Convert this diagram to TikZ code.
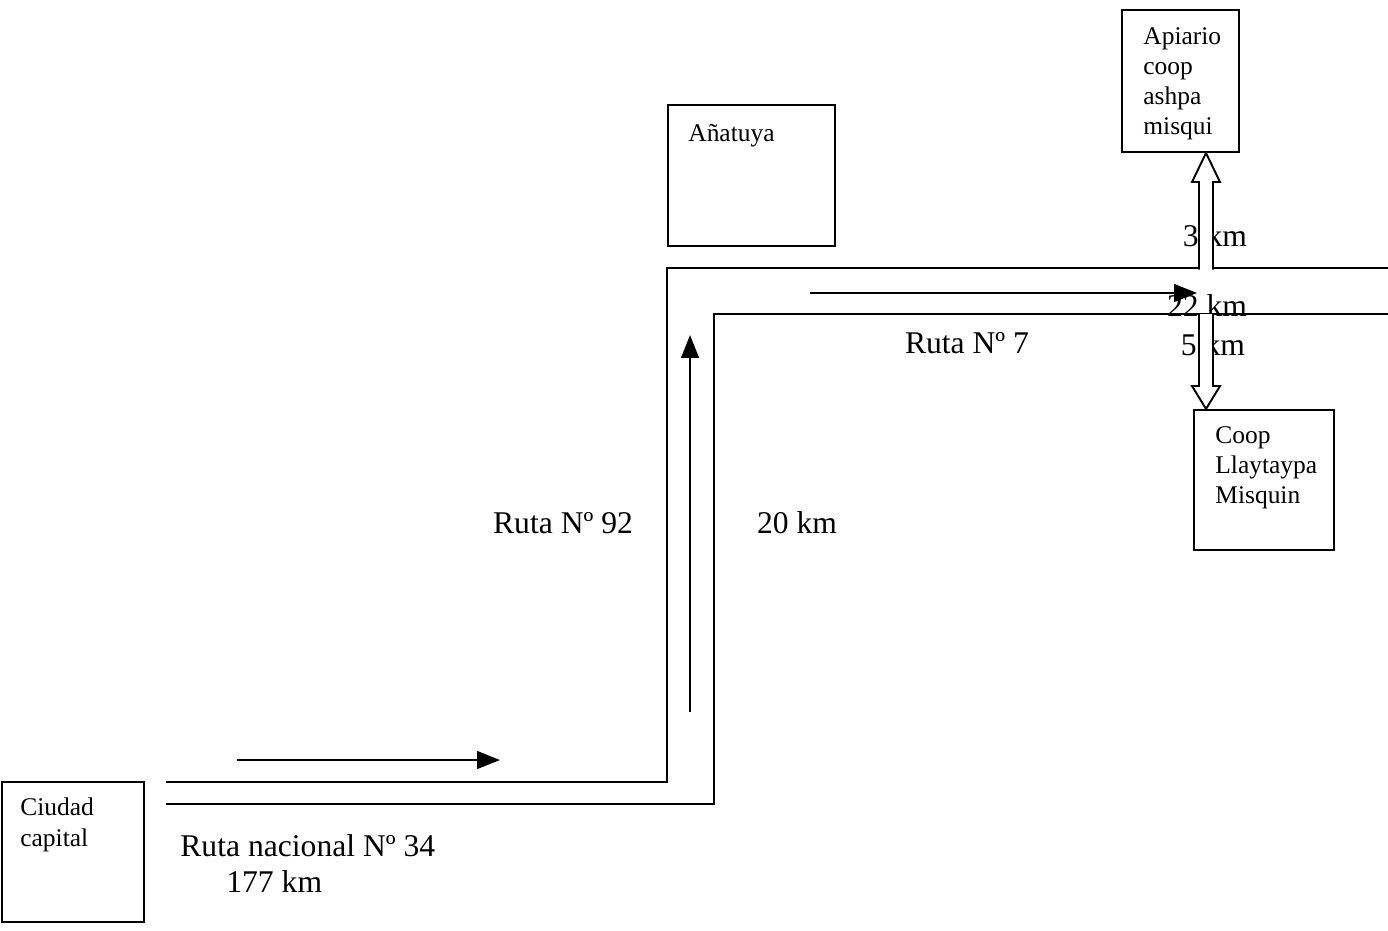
\documentclass[tikz,border=0pt]{standalone}
\usepackage{fontspec}
\setmainfont{Liberation Serif}
\usetikzlibrary{arrows.meta}

\begin{document}
\begin{tikzpicture}[
        x=0.02cm, y=-0.02cm,
        box/.style={draw, line width=1.2pt, inner sep=0},
        boxtext/.style={anchor=north west, inner sep=0, align=left, font=\fontsize{14.5}{17.2}\selectfont},
        road/.style={line width=1.3pt},
        dir/.style={line width=1.3pt, -{Triangle[length=13pt, width=10pt]}},
        dblarrow/.style={line width=1.1pt, fill=white},
        lbl/.style={inner sep=0, font=\fontsize{18}{21}\selectfont},
    ]
    \useasboundingbox (0,0) rectangle (1388,930);

    % places
    \node[box, minimum width=2.84cm, minimum height=2.8cm](ciudad) at (73,852){};
    \node[box, minimum width=3.34cm, minimum height=2.82cm](anatuya) at (751.5,175.5){};
    \node[box, minimum width=2.34cm, minimum height=2.84cm](apiario) at (1180.5,81){};
    \node[box, minimum width=2.8cm, minimum height=2.8cm](coop) at (1264,480){};
    \node[boxtext, font=\fontsize{14.5}{18}\selectfont](ciudadtxt) at (20,797){Ciudad\\capital};
    \node[boxtext](anatuyatxt) at (688,124){Añatuya};
    \node[boxtext](apiariotxt) at (1143,27){Apiario\\coop\\ashpa\\misqui};
    \node[boxtext](cooptxt) at (1215,426){Coop\\Llaytaypa\\Misquin};

    % roads
    \coordinate (r34a) at (166,782);
    \coordinate (r34b) at (166,804);
    \coordinate (c1) at (667,782);
    \coordinate (c2) at (714,804);
    \coordinate (c3) at (667,268);
    \coordinate (c4) at (714,314);
    \coordinate (r7a) at (1388,268);
    \coordinate (r7b) at (1388,314);
    \draw[road] (r34a) -- (c1) -- (c3) -- (r7a);
    \draw[road] (r34b) -- (c2) -- (c4) -- (r7b);

    % direction arrows
    \coordinate (d1) at (237,760);
    \coordinate (d2) at (500,760);
    \coordinate (d3) at (690,712);
    \coordinate (d4) at (690,335);
    \coordinate (d5) at (810,293);
    \coordinate (d6) at (1197,293);
    \draw[dir] (d1) -- (d2);
    \draw[dir] (d3) -- (d4);
    \draw[dir] (d5) -- (d6);

    % labels
    \node[lbl](r92) at (563,523){Ruta Nº 92};
    \node[lbl](km20) at (797,523){20 km};
    \node[lbl](r7) at (967,343){Ruta Nº 7};
    \node[lbl, anchor=west](r34) at (180,846){Ruta nacional Nº 34};
    \node[lbl, anchor=west](km177) at (226,882){177 km};
    \node[lbl](km3) at (1215,236){3 km};
    \node[lbl](km22) at (1207,306){22 km};
    \node[lbl](km5) at (1213,345){5 km};

    % side roads
    \draw[dblarrow] (1199,269.5) -- (1199,182) -- (1192,182) -- (apiario.south -| 1206,0)
        -- (1220,182) -- (1213,182) -- (1213,269.5);
    \draw[dblarrow] (1199,314) -- (1199,386) -- (1192,386) -- (coop.north -| 1206,0)
        -- (1220,386) -- (1213,386) -- (1213,314);
\end{tikzpicture}
\end{document}
